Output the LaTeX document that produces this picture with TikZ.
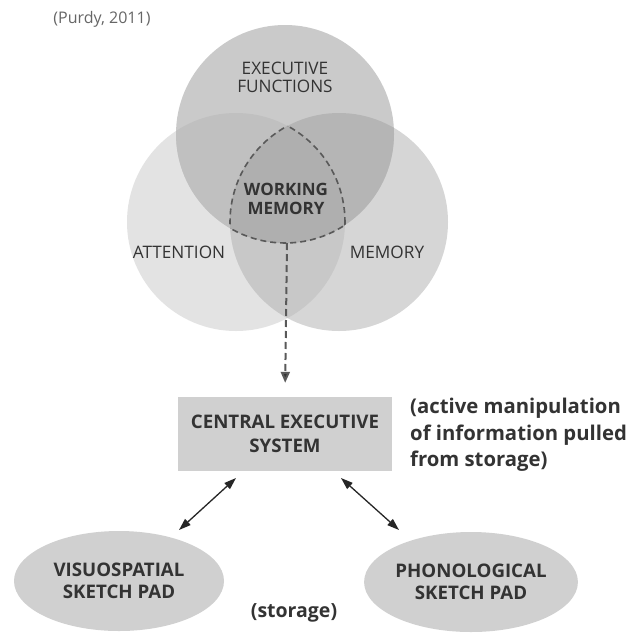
\documentclass[tikz,border=0pt]{standalone}
\usepackage{fontspec}
\setmainfont{Open Sans}
\usetikzlibrary{arrows.meta,shapes.geometric}
\definecolor{cAtt}{HTML}{E3E3E3}
\definecolor{cMem}{HTML}{D6D6D6}
\definecolor{cExe}{HTML}{CACACA}
\definecolor{cAM}{HTML}{C8C8C8}
\definecolor{cEA}{HTML}{C0C0C0}
\definecolor{cEM}{HTML}{B5B5B5}
\definecolor{cAll}{HTML}{AFAFAF}
\definecolor{txt}{HTML}{333333}
\definecolor{boxfill}{HTML}{D0D0D0}
\tikzset{
  lbl/.style={text=txt, align=center, font=\fontsize{17.2}{18.5}\selectfont, inner sep=0pt},
  blbl/.style={text=txt, align=center, font=\fontsize{17}{19}\selectfont\bfseries, inner sep=0pt},
  cesbox/.style={rectangle, fill=boxfill, minimum width=214pt, minimum height=74pt, text=txt, align=center, font=\fontsize{18.7}{24}\selectfont\bfseries},
  padell/.style={ellipse, fill=boxfill, minimum width=210pt, minimum height=100pt, inner sep=0pt, text=txt, align=center, font=\fontsize{18.7}{22}\selectfont\bfseries},
  note/.style={text=txt, font=\fontsize{20.3}{26.5}\selectfont\bfseries, inner sep=0pt},
  dasharrow/.style={draw=black!65, line width=2pt, dash pattern=on 7pt off 4pt, -{Triangle[length=11pt,width=9pt,fill=black!80]}},
  dblarrow/.style={draw=black!85, line width=1.3pt, {Triangle[length=12pt,width=8pt]}-{Triangle[length=12pt,width=8pt]}},
  wmoutline/.style={draw=black!65, line width=1.6pt, dash pattern=on 6pt off 4pt}
}
\begin{document}
\begin{tikzpicture}[x=1pt,y=-1pt]
\useasboundingbox (0,0) rectangle (636,632);
\fill[white] (0,0) rectangle (636,632);
\coordinate (cE) at (285,134);
\coordinate (cA) at (236,222);
\coordinate (cM) at (339,222);
% base circles
\fill[cAtt] (cA) circle[radius=109];
\fill[cMem] (cM) circle[radius=109];
\fill[cExe] (cE) circle[radius=109];
% overlaps
\begin{scope}
  \clip (cA) circle[radius=109];
  \fill[cAM] (cM) circle[radius=109];
  \fill[cEA] (cE) circle[radius=109];
\end{scope}
\begin{scope}
  \clip (cM) circle[radius=109];
  \fill[cEM] (cE) circle[radius=109];
\end{scope}
\begin{scope}
  \clip (cA) circle[radius=109];
  \clip (cM) circle[radius=109];
  \fill[cAll] (cE) circle[radius=109];
\end{scope}
% dashed outline of working memory region
\begin{scope}
  \clip (cA) circle[radius=109];
  \clip (cE) circle[radius=109];
  \draw[wmoutline] (cM) circle[radius=109];
\end{scope}
\begin{scope}
  \clip (cM) circle[radius=109];
  \clip (cE) circle[radius=109];
  \draw[wmoutline] (cA) circle[radius=109];
\end{scope}
\begin{scope}
  \clip (cA) circle[radius=109];
  \clip (cM) circle[radius=109];
  \draw[wmoutline] (cE) circle[radius=109];
\end{scope}
% labels
\node[text=black!60, font=\fontsize{16}{18}\selectfont, inner sep=0pt] (src) at (102,19) {(Purdy, 2011)};
\node[lbl] (ef) at (285,77.5) {EXECUTIVE\\FUNCTIONS};
\node[blbl] (wm) at (286,198.5) {WORKING\\MEMORY};
\node[lbl] (att) at (179,252) {ATTENTION};
\node[lbl] (mem) at (387,252) {MEMORY};
\coordinate (wmb) at (287,243);
% central executive
\node[cesbox] (ces) at (285,434) {CENTRAL EXECUTIVE\\SYSTEM};
\node[note, align=left, anchor=west] (act) at (410,435) {(active manipulation\\of information pulled\\from storage)};
\draw[dasharrow, shorten >=14pt] (wmb) -- (ces.north);
% pads
\node[padell] (vsp) at (119,581) {VISUOSPATIAL\\SKETCH PAD};
\node[padell, minimum width=212pt] (pho) at (471,582) {PHONOLOGICAL\\SKETCH PAD};
\node[note, font=\fontsize{19.5}{22}\selectfont\bfseries] (sto) at (294,613) {(storage)};
\coordinate (l1) at (236,478);
\coordinate (l2) at (179,530);
\coordinate (r1) at (341,478);
\coordinate (r2) at (399,530);
\draw[dblarrow] (l1) -- (l2);
\draw[dblarrow] (r1) -- (r2);
\end{tikzpicture}
\end{document}
